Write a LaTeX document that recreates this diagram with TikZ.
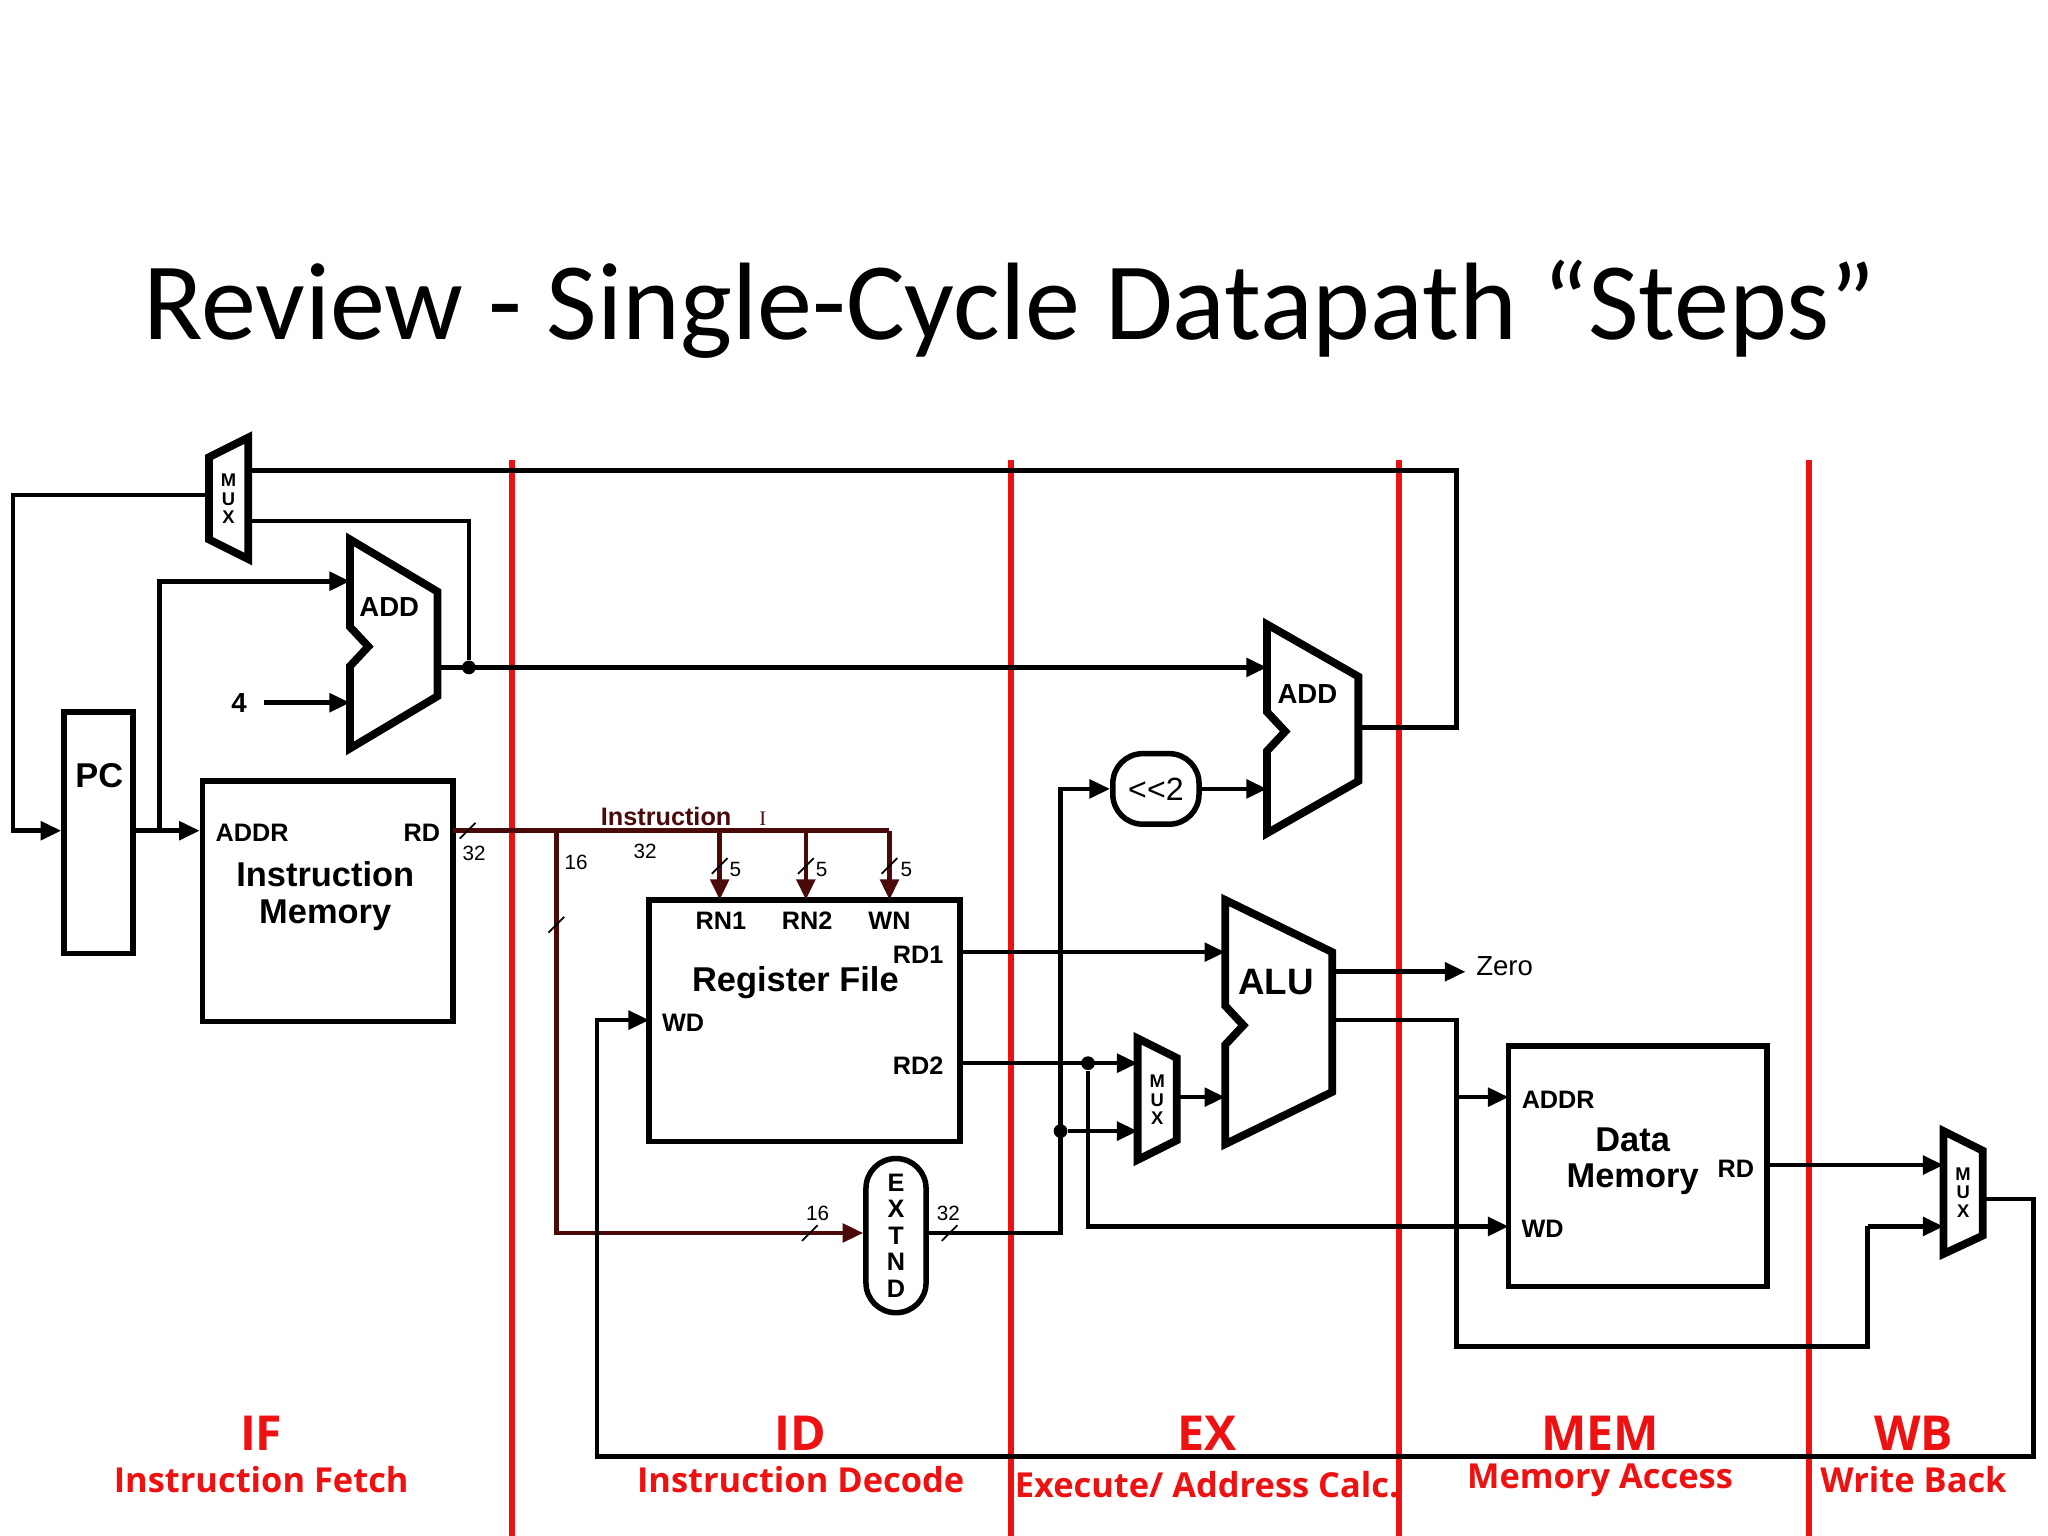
\documentclass[tikz,border=0pt]{standalone}
\usepackage{fontspec}
\setmainfont{Liberation Sans}
\newfontfamily\titlef{Carlito}
\newfontfamily\stagef{Open Sans}
\newfontfamily\serf{Liberation Serif}
\usetikzlibrary{arrows.meta,positioning}
\definecolor{bus}{HTML}{4A0A0A}
\definecolor{stage}{HTML}{EE1111}
\begin{document}
\begin{tikzpicture}[x=0.02cm,y=-0.02cm,
 wire/.style={line width=2pt,line join=miter},
 arr/.style={wire,-{Triangle[length=9pt,width=8pt]}},
 barr/.style={line width=2pt,color=bus,-{Triangle[length=9pt,width=8pt]}},
 blk/.style={draw,line width=2.4pt,inner sep=0pt},
 unit/.style={line width=3.4pt,line join=miter},
 lbl/.style={font=\bfseries\fontsize{11}{12}\selectfont},
 big/.style={font=\bfseries\fontsize{15}{16}\selectfont,align=center},
 num/.style={font=\fontsize{9}{10}\selectfont},
 mux/.style={font=\bfseries\fontsize{8}{8}\selectfont,align=center},
 redl/.style={draw=stage,line width=2.5pt},
 stg/.style={text=stage,font=\stagef\bfseries\fontsize{21}{22}\selectfont},
 stgs/.style={text=stage,font=\stagef\bfseries\fontsize{15}{16}\selectfont},
 dot/.style={circle,fill,inner sep=0pt,minimum size=6pt}]
\useasboundingbox (0,0) rectangle (1568,1176);
\node[font=\titlef\fontsize{48}{54}\selectfont] (title) at (773,237) {Review - Single-Cycle Datapath “Steps”};
% red lines
\foreach \x/\n in {392/a,774/b,1071/c,1385/d}{\draw[redl] (\x,352) coordinate (r\n) -- (\x,1176);}
\node[stg] (sIF) at (200,1097) {IF}; \node[stgs] (tIF) at (200,1133) {Instruction Fetch};
\node[stg] (sID) at (613,1097) {ID}; \node[stgs] (tID) at (613,1133) {Instruction Decode};
\node[stg] (sEX) at (924,1097) {EX}; \node[stgs] (tEX) at (924,1137) {Execute/ Address Calc.};
\node[stg] (sMEM) at (1225,1097) {MEM}; \node[stgs] (tMEM) at (1225,1133) {Memory Access};
\node[stg] (sWB) at (1465,1097) {WB}; \node[stgs] (tWB) at (1465,1133) {Write Back};
% blocks
\node[blk,minimum width=53*0.02cm,minimum height=185*0.02cm] (pc) at (75.5,637.5) {};
\node[big] at (76,594) {PC};
\node[blk,minimum width=192*0.02cm,minimum height=184*0.02cm] (im) at (251,690) {};
\node[lbl] at (193,638) {ADDR}; \node[lbl] at (323,638) {RD};
\node[big,font=\bfseries\fontsize{15}{16}\selectfont] at (249,686) {Instruction\\Memory};
\node[blk,minimum width=238*0.02cm,minimum height=185*0.02cm] (rf) at (616,781.5) {};
\node[lbl] at (552,705) {RN1}; \node[lbl] at (618,705) {RN2}; \node[lbl] at (681,705) {WN};
\node[lbl] at (703,731) {RD1}; \node[lbl] at (523,783) {WD}; \node[lbl] at (703,816) {RD2};
\node[big] at (609,752) {Register File};
\node[blk,minimum width=198*0.02cm,minimum height=184*0.02cm] (dm) at (1254,893) {};
\node[lbl] at (1193,842) {ADDR}; \node[lbl] at (1329,895) {RD}; \node[lbl] at (1181,941) {WD};
\node[big,font=\bfseries\fontsize{15}{16}\selectfont] at (1250,889) {Data\\Memory};
\node[blk,rounded corners=13pt,minimum width=66*0.02cm,minimum height=54*0.02cm,font=\fontsize{14}{14}\selectfont] (sl) at (885,604) {{<}{<}2};
\node[blk,rounded corners=13pt,minimum width=46*0.02cm,minimum height=118*0.02cm,font=\bfseries\fontsize{11}{11.5}\selectfont,align=center] (ext) at (686,946) {E\\X\\T\\N\\D};
% adders and ALU
\draw[unit] (268,413) -- (335,453) -- (335,533) -- (268,573) -- (268,510) -- (282,495) -- (268,480) -- cycle;
\node[lbl,font=\bfseries\fontsize{12}{12}\selectfont] (add1) at (298,465) {ADD};
\draw[unit] (970,478) -- (1040,518) -- (1040,598) -- (970,638) -- (970,575) -- (984,560) -- (970,545) -- cycle;
\node[lbl,font=\bfseries\fontsize{12}{12}\selectfont] (add2) at (1001,531) {ADD};
\draw[unit] (938,689) -- (1020,729) -- (1020,836) -- (938,876) -- (938,800) -- (952,785) -- (938,770) -- cycle;
\node[big,font=\bfseries\fontsize{16}{16}\selectfont] (alu) at (977,752) {ALU};
% muxes
\draw[unit] (160,350) -- (190,335) -- (190,428) -- (160,413) -- cycle;
\node[mux] (m1) at (175,382) {M\\U\\X};
\draw[unit] (871,795) -- (901,810) -- (901,873) -- (871,888) -- cycle;
\node[mux] (m2) at (886,842) {M\\U\\X};
\draw[unit] (1488,866) -- (1518,881) -- (1518,946) -- (1488,960) -- cycle;
\node[mux] (m3) at (1503,913) {M\\U\\X};
% wiring
\draw[arr] (160,379) -- (10,379) -- (10,636) -- (pc.west|-0,636);
\draw[arr] (pc.east|-0,636) -- (im.west|-0,636);
\draw[arr] (122,636) -- (122,445) -- (268,445);
\node[lbl,font=\bfseries\fontsize{12}{12}\selectfont] (four) at (183,538) {4};
\draw[arr] (202,538) -- (268,538);
\draw[arr] (335,511) -- (970,511);
\node[dot] (d1) at (359,511) {};
\draw[wire] (d1) -- (359,399) -- (190,399);
\draw[wire] (1040,557) -- (1115,557) -- (1115,360) -- (190,360);
\draw[arr] (sl.east) -- (970,604);
\draw[arr] (710,944) -- (812,944) -- (812,604) -- (sl.west);
% instruction bus
\draw[line width=2pt,color=bus] (347,636) -- (681,636);
\draw[barr] (551,636) -- (551,689);
\draw[barr] (617,636) -- (617,689);
\draw[barr] (681,636) -- (681,689);
\draw[barr] (426,636) -- (426,944) -- (ext.west|-0,944);
\node[font=\bfseries\fontsize{11}{12}\selectfont,text=bus] (ins) at (510,625) {Instruction};
\node[font=\serf\fontsize{9}{9}\selectfont,text=bus] at (584,627) {I};
\foreach \x/\y in {358/636,551/663,617/663,681/663,620/944,727/944,426/708}{\draw[line width=0.8pt] (\x-6,\y+6) -- (\x+6,\y-6);}
\node[num] at (363,653) {32}; \node[num] at (441,660) {16}; \node[num] at (494,652) {32};
\node[num] at (563,666) {5}; \node[num] at (629,666) {5}; \node[num] at (694,666) {5};
\node[num] at (626,929) {16}; \node[num] at (726,929) {32};
% EX
\draw[arr] (735,729) -- (938,729);
\draw[arr] (735,814) -- (871,814);
\node[dot] (d2) at (833,814) {};
\node[dot] (d3) at (812,866) {};
\draw[arr] (d3) -- (871,866);
\draw[arr] (d2) -- (833,939) -- (1155,939);
\draw[arr] (901,840) -- (938,840);
\draw[arr] (1020,744) -- (1122,744);
\node[font=\fontsize{12}{12}\selectfont] (zero) at (1152,740) {Zero};
\draw[wire] (1020,781) -- (1115,781) -- (1115,1031) -- (1430,1031) -- (1430,939);
\draw[arr] (1430,939) -- (1488,939);
\draw[arr] (1115,840) -- (1155,840);
\draw[arr] (1353,892) -- (1488,892);
\draw[arr] (1518,918) -- (1557,918) -- (1557,1115) -- (457,1115) -- (457,781) -- (497,781);
\end{tikzpicture}
\end{document}
